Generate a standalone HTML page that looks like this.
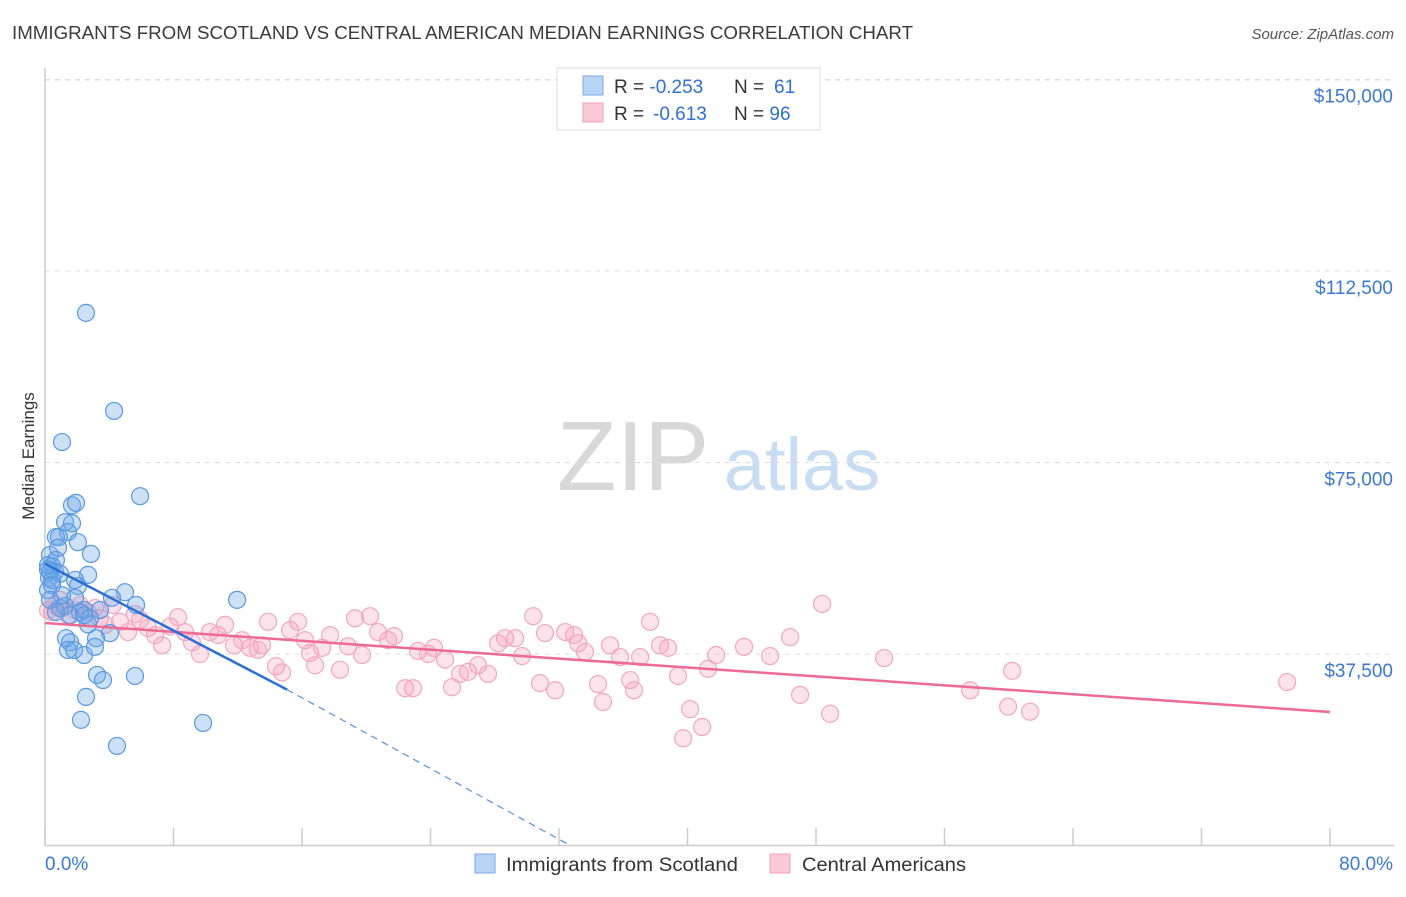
<!DOCTYPE html>
<html><head><meta charset="utf-8"><style>
body{margin:0;background:#fff;font-family:"Liberation Sans",sans-serif;}
svg text{font-family:"Liberation Sans",sans-serif;}
</style></head><body>
<svg id="chart" width="1406" height="892" viewBox="0 0 1406 892">
<text x="12" y="39" font-size="18" fill="#3a3a3a" textLength="901" lengthAdjust="spacingAndGlyphs">IMMIGRANTS FROM SCOTLAND VS CENTRAL AMERICAN MEDIAN EARNINGS CORRELATION CHART</text>
<text x="1394" y="39" font-size="15" fill="#555" text-anchor="end" font-style="italic">Source: ZipAtlas.com</text>
<text transform="translate(34,456) rotate(-90)" font-size="17" fill="#333" text-anchor="middle">Median Earnings</text>
<g>
<text x="633" y="490" font-size="98" fill="#d8d8d8" text-anchor="middle" font-family="Liberation Serif, serif">ZIP</text>
<text x="802" y="490" font-size="74" fill="#c8dcf2" text-anchor="middle">atlas</text>
</g>
<g id="grid"></g>
<g id="axes"></g>
<g id="marks"></g>
<g>
<rect x="557" y="68" width="263" height="62" fill="#fff" stroke="#ddd"/>
<rect x="583" y="76" width="20" height="19" fill="#b9d3f5" stroke="#7aaae6"/>
<rect x="583" y="103" width="20" height="19" fill="#fbc9d8" stroke="#f0a0bc"/>
<text x="614" y="93" font-size="19" fill="#333">R = <tspan fill="#2f6fd6">-0.253</tspan><tspan x="734">N = </tspan><tspan fill="#2f6fd6" x="774">61</tspan></text>
<text x="614" y="120" font-size="19" fill="#333">R = <tspan fill="#2f6fd6" x="653">-0.613</tspan><tspan x="734">N = </tspan><tspan fill="#2f6fd6">96</tspan></text>
</g>
<g>
<rect x="475" y="854" width="20" height="19" fill="#b9d3f5" stroke="#7aaae6"/>
<text x="506" y="871" font-size="19" fill="#333" textLength="232" lengthAdjust="spacingAndGlyphs">Immigrants from Scotland</text>
<rect x="770" y="854" width="20" height="19" fill="#fbc9d8" stroke="#f0a0bc"/>
<text x="802" y="871" font-size="19" fill="#333" textLength="164" lengthAdjust="spacingAndGlyphs">Central Americans</text>
</g>
</svg>
<script>
const yTicks=[37500,75000,112500,150000];
const yTickLabels=["$37,500","$75,000","$112,500","$150,000"];
const xTickLabels=["0.0%","80.0%"];
const blueX=[2.55,4.30,1.06,5.92,1.68,1.93,1.25,1.68,1.43,0.68,0.87,2.05,0.31,2.86,0.68,0.44,0.31,0.62,0.93,0.25,2.68,1.87,2.05,4.98,0.19,1.87,11.96,5.67,0.93,1.25,2.43,2.18,0.68,2.68,4.05,1.31,1.56,3.18,1.43,1.81,2.43,3.11,3.24,3.61,5.60,2.55,2.24,9.84,4.48,0.44,0.19,0.44,1.06,0.81,1.56,0.31,3.42,2.43,2.80,4.17,0.19];
const blueY=[104.3,85.1,79.0,68.4,66.6,67.1,63.3,63.1,61.4,60.4,60.4,59.4,56.9,57.1,55.9,54.7,53.6,53.6,53.2,52.4,53.0,52.0,50.8,49.6,50.0,48.5,48.1,47.1,46.5,46.9,46.1,45.7,45.7,43.3,41.6,40.6,39.8,40.6,38.3,38.3,37.3,38.9,33.4,32.4,33.2,29.1,24.6,24.0,19.5,52.0,54.9,51.0,49.0,58.3,45.1,48.1,46.1,45.1,44.5,48.5,54.0];
const pinkX=[0.19,0.44,0.62,0.93,1.06,1.43,1.87,2.18,2.68,3.11,3.42,3.74,4.23,4.67,5.17,5.60,5.92,6.41,6.85,7.29,7.79,8.28,8.72,9.15,9.65,10.27,10.77,11.21,11.77,12.27,12.76,13.26,13.51,13.89,14.38,14.76,15.26,15.75,16.19,16.50,16.81,17.25,17.75,18.37,18.87,19.30,19.74,20.24,20.73,21.36,21.73,22.42,22.91,23.23,23.85,24.22,24.91,25.34,25.84,26.34,26.96,27.58,28.21,28.64,29.27,29.70,30.39,30.82,31.13,31.76,32.38,32.94,33.19,33.62,34.43,34.74,35.18,35.80,36.43,36.67,37.05,37.67,38.29,38.79,39.41,39.73,40.16,40.91,41.28,41.78,43.52,45.14,46.39,47.01,48.38,48.88,52.24,57.60,59.96,60.21,61.33,77.33];
const pinkY=[46.1,45.7,47.1,48.1,46.5,45.1,46.1,47.1,45.7,46.5,44.5,43.2,47.1,43.8,41.8,45.3,44.2,42.6,41.2,39.2,42.9,44.7,41.8,39.8,37.5,41.8,41.2,43.2,39.2,40.2,38.7,38.3,39.2,43.8,35.1,33.9,42.2,43.8,40.2,37.7,35.3,38.7,41.2,34.4,39.0,44.5,37.3,44.9,41.8,40.2,41.0,30.8,30.8,38.1,37.5,38.7,36.4,31.0,33.6,34.0,35.3,33.6,39.6,40.6,40.6,37.1,44.9,31.8,41.6,30.4,41.8,41.2,39.6,37.9,31.6,28.1,39.2,36.9,32.4,30.4,36.9,43.8,39.2,38.7,33.2,21.0,26.7,23.2,34.6,37.3,38.9,37.1,40.8,29.5,47.3,25.8,36.7,30.4,27.2,34.2,26.2,32.0];
const blueTrend=[0,55.18,15.07,30.53,32.7,0];
const pinkTrend=[0,43.57,80,26.14];
const NS="http://www.w3.org/2000/svg";
const X0=45,X1=1330,Y0=845.5,PPK=191.5/37.5;
function sx(p){return X0+p/80*(X1-X0);}
function sy(k){return Y0-k*PPK;}
function mk(tag,attrs,parent){const e=document.createElementNS(NS,tag);for(const k in attrs)e.setAttribute(k,attrs[k]);parent.appendChild(e);return e;}
const grid=document.getElementById('grid'),axes=document.getElementById('axes'),marks=document.getElementById('marks');
yTicks.forEach((t,i)=>{
 const l=mk('line',{x1:45,x2:1394,y1:sy(t/1000),y2:sy(t/1000),stroke:'#ddd','stroke-dasharray':'5,5'},grid);
 
 
 const tx=mk('text',{x:1393,y:sy(t/1000)+23,'font-size':19,fill:'#3b78d6','text-anchor':'end'},axes);
 tx.textContent=yTickLabels[i];
 
 
});
mk('line',{x1:45,x2:1394,y1:80,y2:80,stroke:'#ddd','stroke-dasharray':'5,5'},grid);
const ya=mk('line',{x1:45,x2:45,y1:68,y2:846,stroke:'#ccc','stroke-width':1.5},axes);


const xa=mk('line',{x1:45,x2:1394,y1:845.5,y2:845.5,stroke:'#ccc','stroke-width':1.5},axes);


for(let i=0;i<=10;i++){const p=i*8;const t=mk('line',{x1:sx(p),x2:sx(p),y1:828,y2:846,stroke:'#ccc','stroke-width':1.5},axes);
 
 }
[[0,'start',45],[80,'end',1393]].forEach((d,i)=>{const t=mk('text',{x:d[2],y:870,'font-size':19,fill:'#3b78d6','text-anchor':d[1]},axes);t.textContent=xTickLabels[i];
 
 });
pinkX.forEach((x,i)=>{const c=mk('circle',{cx:sx(x),cy:sy(pinkY[i]),r:8.5,fill:'rgba(245,160,190,0.3)',stroke:'#f2a6c0','stroke-width':1.2},marks);
 
 });
blueX.forEach((x,i)=>{const c=mk('circle',{cx:sx(x),cy:sy(blueY[i]),r:8.5,fill:'rgba(110,165,230,0.35)',stroke:'#5a98e0','stroke-width':1.2},marks);
 
 });
const pl=mk('line',{x1:sx(pinkTrend[0]),y1:sy(pinkTrend[1]),x2:sx(pinkTrend[2]),y2:sy(pinkTrend[3]),stroke:'#ec6a94','stroke-width':2.5},marks);


const bl=mk('line',{x1:sx(blueTrend[0]),y1:sy(blueTrend[1]),x2:sx(blueTrend[2]),y2:sy(blueTrend[3]),stroke:'#2a6fd6','stroke-width':2.5},marks);


const bd=mk('line',{x1:sx(blueTrend[2]),y1:sy(blueTrend[3]),x2:sx(blueTrend[4]),y2:sy(blueTrend[5]),stroke:'#5a90dc','stroke-width':1.2,'stroke-dasharray':'7,5'},marks);


</script>
</body></html>
